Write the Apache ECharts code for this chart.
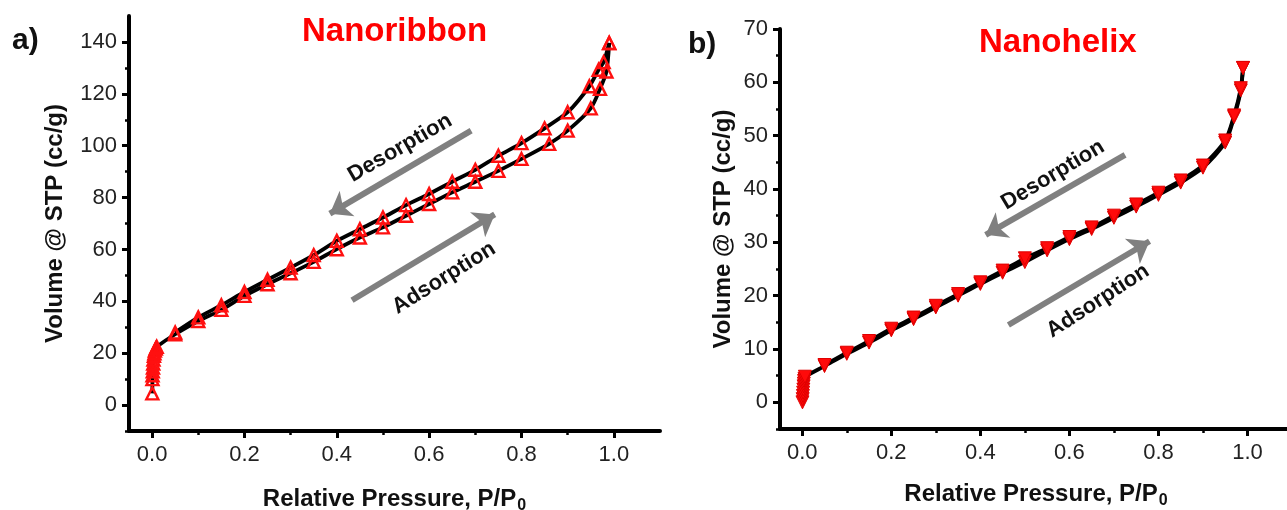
<!DOCTYPE html>
<html>
<head>
<meta charset="utf-8">
<script src="https://cdn.jsdelivr.net/npm/echarts@6/dist/echarts.min.js"></script>
<style>
html,body{margin:0;padding:0;background:#fff;}
#c{width:1287px;height:510px;}
</style>
</head>
<body>
<div id="c"></div>
<script>
// ---- Panel a: Nanoribbon ----
const adsP_a = [0.0005,0.0008,0.001,0.0015,0.002,0.0025,0.003,0.004,0.005,0.006,0.008,0.01,0.05,0.10,0.15,0.20,0.25,0.30,0.35,0.40,0.45,0.50,0.55,0.60,0.65,0.70,0.75,0.80,0.86,0.90,0.95,0.97,0.984,0.99];
const adsV_a = [4.5,10.0,11.5,13.0,14.5,16.0,17.5,19.0,20.0,21.0,21.8,22.5,27.3,32.4,36.7,42.1,46.6,50.8,55.2,60.1,64.6,68.5,73.0,77.5,82.0,86.1,90.3,94.9,100.7,105.8,114.4,121.9,128.6,139.6];
const desP_a = [0.99,0.978,0.967,0.947,0.90,0.85,0.80,0.75,0.70,0.65,0.60,0.55,0.50,0.45,0.40,0.35,0.30,0.25,0.20,0.15,0.10,0.05];
const desV_a = [139.6,132.2,129.3,122.9,112.9,106.7,101.0,96.1,90.7,86.1,81.4,77.1,72.3,67.8,63.3,57.8,53.0,48.3,43.6,38.5,33.8,28.0];
// ---- Panel b: Nanohelix ----
const adsP_b = [0.0005,0.001,0.0015,0.002,0.0025,0.003,0.0035,0.004,0.005,0.006,0.05,0.10,0.15,0.20,0.25,0.30,0.35,0.40,0.45,0.50,0.55,0.60,0.65,0.70,0.75,0.80,0.85,0.90,0.95,0.97,0.985,0.99];
const adsV_b = [0.0,0.6,1.2,1.8,2.4,3.0,3.5,4.0,4.4,4.8,6.8,9.1,11.2,13.5,15.6,17.8,20.0,22.2,24.3,26.3,28.5,30.6,32.5,34.6,36.7,38.9,41.2,44.0,48.7,53.5,58.5,62.7];
const desP_b = [0.99,0.985,0.97,0.95,0.90,0.85,0.80,0.75,0.70,0.65,0.60,0.55,0.50,0.45,0.40,0.35,0.30,0.25,0.20,0.15,0.10,0.05];
const desV_b = [62.7,58.9,53.8,49.1,44.4,41.6,39.3,37.1,35.0,32.8,31.0,28.9,27.0,24.7,22.5,20.3,18.1,15.9,13.8,11.5,9.3,7.0];
// ---- ticks ----
const xMajor = [0,0.2,0.4,0.6,0.8,1.0];
const xMinor = [0.1,0.3,0.5,0.7,0.9];
const yMajor_a = [0,20,40,60,80,100,120,140];
const yMinor_a = [-10,10,30,50,70,90,110,130];
const yMajor_b = [0,10,20,30,40,50,60,70];
const yMinor_b = [-5,5,15,25,35,45,55,65];
// arrows (data coords) [x1,y1,x2,y2]
const arrows_a = [[0.691,105.8,0.385,73.8],[0.433,40.4,0.742,73.5]];
const arrows_b = [[0.725,46.4,0.412,31.4],[0.463,14.5,0.780,30.2]];

const FONT = 'Liberation Sans, Arial, Helvetica, sans-serif';
const zip = (a,b) => a.map((v,i)=>[v,b[i]]);

function xAxes(gi, gap){
  return [
    {type:'value', gridIndex:gi, position:'bottom', min:-0.05, max:1.1,
     axisLine:{show:true, onZero:false, lineStyle:{color:'#000', width:4}},
     axisTick:{show:true, customValues:xMajor, length:7, inside:false, lineStyle:{color:'#000', width:3}},
     axisLabel:{show:true, customValues:xMajor, formatter:v=>v.toFixed(1), fontSize:22, color:'#222', fontFamily:FONT, margin:13},
     splitLine:{show:false},
     name:'Relative Pressure, P/P{sub|0}', nameLocation:'middle', nameGap:gap,
     nameTextStyle:{fontSize:24, fontWeight:'bold', color:'#111', fontFamily:FONT,
       rich:{sub:{fontSize:16, fontWeight:'bold', color:'#111', fontFamily:FONT, padding:[14,0,0,1]}}}
    },
    {type:'value', gridIndex:gi, position:'bottom', offset:0, min:-0.05, max:1.1,
     axisLine:{show:false, onZero:false}, axisLabel:{show:false}, splitLine:{show:false},
     axisTick:{show:true, customValues:xMinor, length:4, lineStyle:{color:'#000', width:2.5}}
    }
  ];
}
function yAxes(gi, min, max, major, minor, gap){
  return [
    {type:'value', gridIndex:gi, position:'left', min:min, max:max,
     axisLine:{show:true, onZero:false, lineStyle:{color:'#000', width:4}},
     axisTick:{show:true, customValues:major, length:7, lineStyle:{color:'#000', width:3}},
     axisLabel:{show:true, customValues:major, fontSize:22, color:'#222', fontFamily:FONT, margin:12},
     splitLine:{show:false},
     name:'Volume @ STP (cc/g)', nameLocation:'middle', nameGap:gap,
     nameTextStyle:{fontSize:24, fontWeight:'bold', color:'#111', fontFamily:FONT}
    },
    {type:'value', gridIndex:gi, position:'left', offset:0, min:min, max:max,
     axisLine:{show:false, onZero:false}, axisLabel:{show:false}, splitLine:{show:false},
     axisTick:{show:true, customValues:minor, length:4, lineStyle:{color:'#000', width:2.5}}
    }
  ];
}
function arrowML(list){
  return {silent:true, symbol:['none','arrow'], symbolSize:[22,20], animation:false,
    lineStyle:{color:'#808080', width:6, type:'solid', opacity:1}, label:{show:false},
    emphasis:{disabled:true},
    data:list.map(a=>[{coord:[a[0],a[1]]},{coord:[a[2],a[3]]}])};
}
const lineBase = {type:'line', smooth:0.25, lineStyle:{color:'#000', width:3.8}, z:3};

const option = {
  animation:false,
  grid:[
    {left:129, top:16, width:531, height:415, containLabel:false, outerBoundsMode:'none'},
    {left:780, top:29, width:512, height:400, containLabel:false, outerBoundsMode:'none'}
  ],
  xAxis:[...xAxes(0,53), ...xAxes(1,50)],
  yAxis:[...yAxes(0,-10,150,yMajor_a,yMinor_a,62), ...yAxes(1,-5,70,yMajor_b,yMinor_b,45)],
  series:[
    Object.assign({}, lineBase, {name:'Adsorption a', xAxisIndex:0, yAxisIndex:0, data:zip(adsP_a,adsV_a),
      symbol:'triangle', symbolSize:12, itemStyle:{color:'rgba(255,255,255,0)', borderColor:'#ff1010', borderWidth:2.4},
      markLine:arrowML(arrows_a)}),
    Object.assign({}, lineBase, {name:'Desorption a', xAxisIndex:0, yAxisIndex:0, data:zip(desP_a,desV_a),
      symbol:'triangle', symbolSize:12, itemStyle:{color:'rgba(255,255,255,0)', borderColor:'#ff1010', borderWidth:2.4}}),
    Object.assign({}, lineBase, {name:'Adsorption b', xAxisIndex:2, yAxisIndex:2, data:zip(adsP_b,adsV_b),
      symbol:'triangle', symbolRotate:180, symbolSize:13, itemStyle:{color:'#ff0a0a', borderColor:'#e00000', borderWidth:1},
      markLine:arrowML(arrows_b)}),
    Object.assign({}, lineBase, {name:'Desorption b', xAxisIndex:2, yAxisIndex:2, data:zip(desP_b,desV_b),
      symbol:'triangle', symbolRotate:180, symbolSize:13, itemStyle:{color:'#ff0a0a', borderColor:'#e00000', borderWidth:1}})
  ],
  graphic:[
    {type:'text', x:12, y:41, style:{text:'a)', font:'bold 30px '+FONT, fill:'#111', verticalAlign:'middle'}},
    {type:'text', x:688, y:45, style:{text:'b)', font:'bold 30px '+FONT, fill:'#111', verticalAlign:'middle'}},
    {type:'text', x:302, y:32, style:{text:'Nanoribbon', font:'bold 33px '+FONT, fill:'#ff0000', verticalAlign:'middle'}},
    {type:'text', x:979, y:43, style:{text:'Nanohelix', font:'bold 33px '+FONT, fill:'#ff0000', verticalAlign:'middle'}},
    {type:'text', x:400, y:148, rotation:30*Math.PI/180, style:{text:'Desorption', font:'bold 22px '+FONT, fill:'#111', align:'center', verticalAlign:'middle'}},
    {type:'text', x:444, y:278, rotation:32*Math.PI/180, style:{text:'Adsorption', font:'bold 22px '+FONT, fill:'#111', align:'center', verticalAlign:'middle'}},
    {type:'text', x:1053, y:175, rotation:31*Math.PI/180, style:{text:'Desorption', font:'bold 22px '+FONT, fill:'#111', align:'center', verticalAlign:'middle'}},
    {type:'text', x:1098, y:301, rotation:33*Math.PI/180, style:{text:'Adsorption', font:'bold 22px '+FONT, fill:'#111', align:'center', verticalAlign:'middle'}}
  ]
};
const chart = echarts.init(document.getElementById('c'), null, {renderer:'canvas'});
chart.setOption(option);
</script>
</body>
</html>
